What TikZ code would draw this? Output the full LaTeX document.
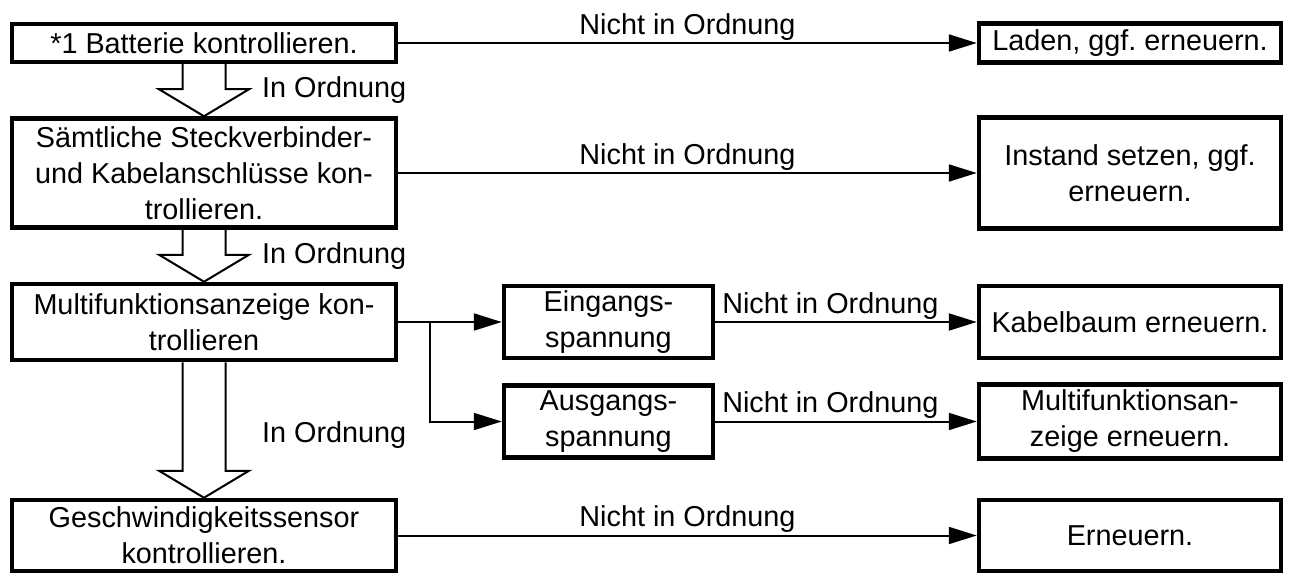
\documentclass[tikz,border=0pt]{standalone}
\usepackage{fontspec}
\setmainfont{Liberation Sans}
\frenchspacing
\usetikzlibrary{positioning,arrows.meta,calc}
\tikzset{
box/.style={
draw,
line width=4.5pt,
align=center,
inner sep=0pt,
font=\fontsize{28.8}{36}\selectfont
},
leftbox/.style={
box,
minimum width=384pt
},
rightbox/.style={
box,
minimum width=302pt
},
midbox/.style={
box,
minimum width=209pt,
minimum height=72pt
},
arrow/.style={
-{Triangle[length=28pt,width=17pt]},
line width=2pt
},
okarrow/.style={
line width=2pt,
line join=miter
},
cond/.style={
font=\fontsize{28.8}{36}\selectfont,
inner sep=2pt
}
}

\begin{document}
\begin{tikzpicture}[x=1pt,y=-1pt]
\useasboundingbox (0,0) rectangle (1289,575);

% left column
\node[leftbox,minimum height=38pt](batt) at (204,43){*1 Batterie kontrollieren.};
\node[leftbox,minimum height=109pt](stecker) at (204,173){Sämtliche Steckverbinder-\\und Kabelanschlüsse kon-\\trollieren.};
\node[leftbox,minimum height=76pt](anzeige) at (204,322){Multifunktionsanzeige kon-\\trollieren};
\node[leftbox,minimum height=71pt](sensor) at (204,535.5){Geschwindigkeitssensor\\kontrollieren.};

% middle column
\node[midbox](ein) at (608.5,322){Eingangs-\\spannung};
\node[midbox](aus) at (608.5,421.5){Ausgangs-\\spannung};

% right column
\node[rightbox,minimum height=39pt](laden) at (1130,43){Laden, ggf. erneuern.};
\node[rightbox,minimum height=111pt](instand) at (1130,173){Instand setzen, ggf.\\erneuern.};
\node[rightbox,minimum height=72pt](kabel) at (1130,322){Kabelbaum erneuern.};
\node[rightbox,minimum height=74pt](mfa) at (1130,421.5){Multifunktionsan-\\zeige erneuern.};
\node[rightbox,minimum height=71pt](neu) at (1130,535.5){Erneuern.};

% not ok
\draw[arrow](batt.east)--node[cond,above]{Nicht in Ordnung}(laden.west);
\draw[arrow](stecker.east)--node[cond,above]{Nicht in Ordnung}(instand.west);
\draw[arrow](ein.east)--node[cond,above,pos=0.44]{Nicht in Ordnung}(kabel.west);
\draw[arrow](aus.east)--node[cond,above,pos=0.44]{Nicht in Ordnung}(mfa.west);
\draw[arrow](sensor.east)--node[cond,above]{Nicht in Ordnung}(neu.west);

% split to voltages
\coordinate(split) at ($(anzeige.east)+(32,0)$);
\draw[arrow](anzeige.east)--(ein.west);
\draw[arrow](split)|-(aus.west);

% ok
\draw[okarrow]($(batt.south)+(-21.5,0)$)--($(stecker.north)+(-21.5,-27)$)--($(stecker.north)+(-45,-27)$)
--(stecker.north)--($(stecker.north)+(45,-27)$)--($(stecker.north)+(21.5,-27)$)--($(batt.south)+(21.5,0)$);
\draw[okarrow]($(stecker.south)+(-21.5,0)$)--($(anzeige.north)+(-21.5,-27)$)--($(anzeige.north)+(-45,-27)$)
--(anzeige.north)--($(anzeige.north)+(45,-27)$)--($(anzeige.north)+(21.5,-27)$)--($(stecker.south)+(21.5,0)$);
\draw[okarrow]($(anzeige.south)+(-21.5,0)$)--($(sensor.north)+(-21.5,-27)$)--($(sensor.north)+(-45,-27)$)
--(sensor.north)--($(sensor.north)+(45,-27)$)--($(sensor.north)+(21.5,-27)$)--($(anzeige.south)+(21.5,0)$);

\node[cond,anchor=west](ok1) at ($(batt.south)!0.5!(stecker.north)+(56,0)$){In Ordnung};
\node[cond,anchor=west](ok2) at ($(stecker.south)!0.5!(anzeige.north)+(56,0)$){In Ordnung};
\node[cond,anchor=west](ok3) at ($(anzeige.south)!0.5!(sensor.north)+(56,5)$){In Ordnung};
\end{tikzpicture}
\end{document}
